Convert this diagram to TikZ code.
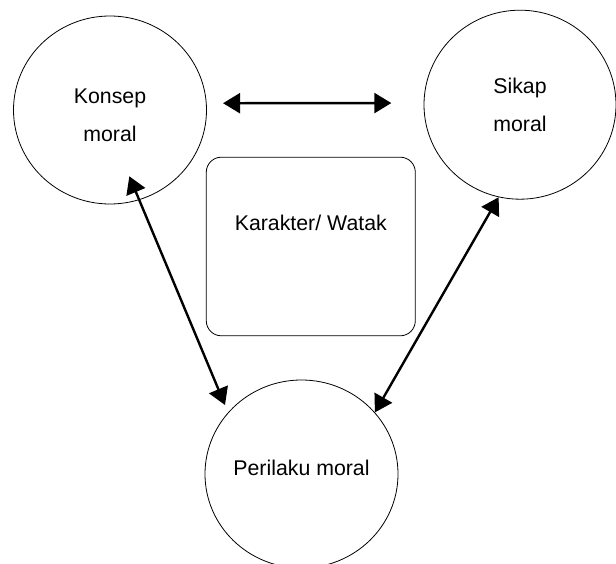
\documentclass[tikz,border=0pt]{standalone}
\usepackage{fontspec}
\setmainfont{Liberation Sans}
\usetikzlibrary{shapes.geometric,arrows.meta}
\begin{document}
\begin{tikzpicture}[x=1pt,y=-1pt,
  bulat/.style={draw,ellipse,line width=0.8pt,minimum width=193pt,minimum height=188pt,
    inner sep=0pt,align=center,font=\fontsize{21.3}{38}\selectfont},
  kotak/.style={draw,rectangle,rounded corners=15pt,line width=0.8pt,minimum width=209pt,
    minimum height=178.6pt,inner sep=0pt,text depth=47pt,font=\fontsize{21.3}{38}\selectfont},
  panah/.style={{Triangle[length=17pt,width=20pt]}-{Triangle[length=17pt,width=20pt]},line width=2.4pt}]
\useasboundingbox (0,0) rectangle (616,564);
% lingkaran dan kotak
\node[bulat] (konsep) at (110,110) {\rule{0pt}{26pt}Konsep\\moral};
\node[bulat,minimum height=189pt,minimum width=192pt] (sikap) at (520,104.7) {Sikap\\moral};
\node[bulat,text depth=12pt] (perilaku) at (301.5,474) {Perilaku moral};
\node[kotak] (watak) at (310.8,246.5) {Karakter/ Watak};
% panah dua arah
\draw[panah,shorten <=16.4pt,shorten >=32.3pt] (konsep.4) -- (sikap.179);
\draw[panah,shorten <=-25.7pt,shorten >=8pt] (konsep.-72) -- (perilaku.140.6);
\draw[panah] (sikap.-103.4) -- (perilaku.40.6);
\end{tikzpicture}
\end{document}
